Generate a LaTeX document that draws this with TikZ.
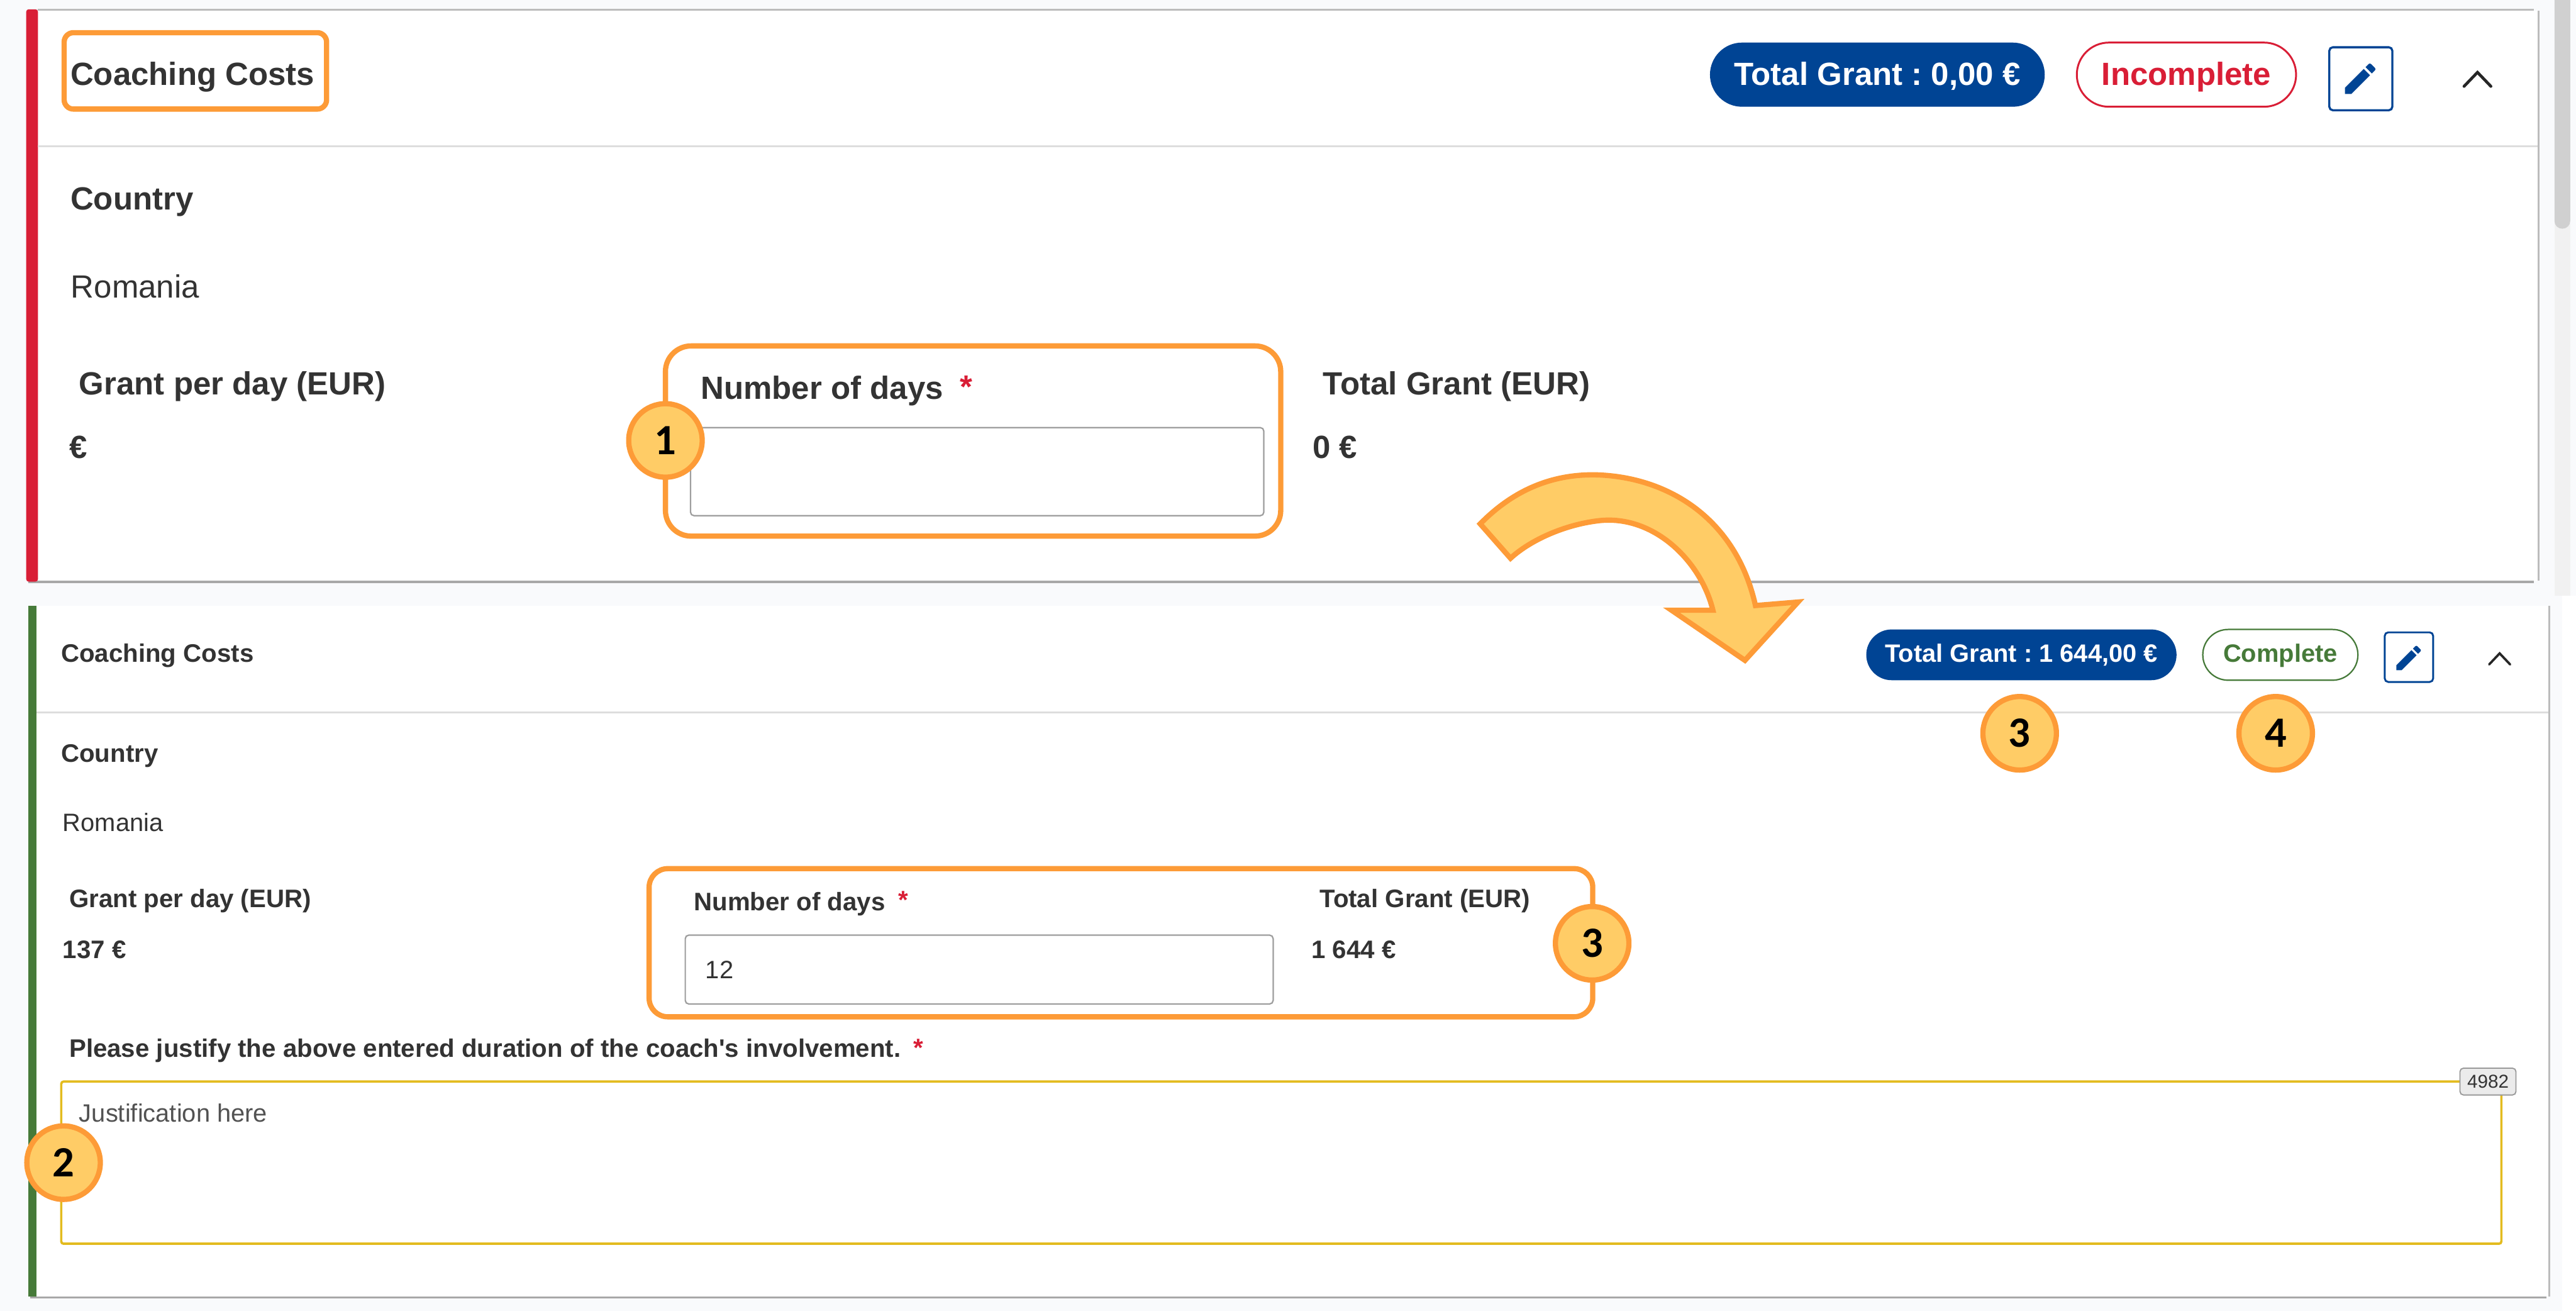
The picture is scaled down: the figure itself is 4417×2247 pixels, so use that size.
\documentclass[tikz,border=0pt]{standalone}
\usepackage{fontspec}
\setmainfont{Liberation Sans}
\newfontfamily\aposfont{Liberation Sans}
\newfontfamily\badgefont{Carlito}
\usetikzlibrary{shapes.misc}
\definecolor{pagebg}{HTML}{F9FAFC}
\definecolor{orangeln}{HTML}{FD9B37}
\definecolor{orangefl}{HTML}{FFCC66}
\definecolor{redbar}{HTML}{D91E36}
\definecolor{greenbar}{HTML}{467A39}
\definecolor{navy}{HTML}{004494}
\definecolor{inktxt}{HTML}{333333}
\definecolor{yellowln}{HTML}{E3BB1F}
\definecolor{shadowln}{HTML}{A8A8A8}
\definecolor{hairln}{HTML}{DDDDDD}
\definecolor{thumb}{HTML}{D0D0D0}
\definecolor{track}{HTML}{F1F1F1}
\tikzset{
  x=0.25pt,y=-0.25pt,
  lab/.style={anchor=base west,inner sep=0pt,text=inktxt},
  bigb/.style={lab,font=\fontsize{13.75}{16}\selectfont\bfseries},
  bigr/.style={lab,font=\fontsize{13.75}{16}\selectfont},
  smb/.style={lab,font=\fontsize{10.85}{13}\selectfont\bfseries},
  smr/.style={lab,font=\fontsize{10.75}{13}\selectfont},
  pillbox/.style={rounded rectangle,inner sep=0pt,line width=1pt,minimum height=#1},
  toppill/.style={pillbox=27.5pt,text height=11pt,text depth=2pt,font=\fontsize{13.75}{16}\selectfont\bfseries},
  lowpill/.style={pillbox=21.75pt,text height=8pt,text depth=1.8pt,font=\fontsize{10.75}{13}\selectfont\bfseries},
  callout/.style={circle,draw=orangeln,fill=orangefl,line width=2.25pt,minimum size=31.5pt,inner sep=0pt,text=black,font=\fontsize{18.5}{20}\selectfont\badgefont\bfseries},
  framebox/.style={draw=orangeln,line width=2.25pt},
  inputbox/.style={draw=black!38,line width=0.6pt,rounded corners=1.5pt},
  chev/.style={draw=black!85,line width=1.25pt,line cap=round,line join=miter},
}
\newcommand{\penicon}[3]{%
  \begin{scope}[shift={(#1,#2)},x=#3*0.25pt,y=-#3*0.25pt]
    \fill[navy] (-9,5.25) -- (-9,9) -- (-5.25,9) -- (5.81,-2.06) -- (2.06,-5.81) -- cycle;
    \fill[navy] (8.71,-4.96) .. controls (9.1,-5.35) and (9.1,-5.98) .. (8.71,-6.37)
      -- (6.37,-8.71) .. controls (5.98,-9.1) and (5.35,-9.1) .. (4.96,-8.71)
      -- (3.13,-6.88) -- (6.88,-3.13) -- cycle;
  \end{scope}}
\frenchspacing
\begin{document}
\begin{tikzpicture}
\useasboundingbox (0,0) rectangle (4417,2247);
\fill[pagebg] (0,0) rectangle (4417,2247);
% scrollbar track and thumb
\fill[track] (4380,0) rectangle (4407,1021);
\fill[thumb,rounded corners=3.3pt] (4380,-30) rectangle (4407,392);
\fill[white] (4393,1021) rectangle (4417,2247);
% top panel
\fill[shadowln] (48,995) rectangle (4345,1000);
\fill[hairln!85!black] (65,15) rectangle (4345,18);
\fill[hairln!85!black] (4351,18) rectangle (4354,995);
\fill[white] (65,18) rectangle (4351,995);
\fill[redbar,rounded corners=1pt] (45,16) rectangle (65,997);
\fill[hairln] (65,249) rectangle (4351,252);
% bottom panel
\fill[shadowln] (52,2222) rectangle (4366,2226);
\fill[hairln!85!black] (4370,1038) rectangle (4373,2222);
\fill[white] (63,1038) rectangle (4370,2223);
\fill[greenbar] (48,1038) rectangle (63,2222);
\fill[hairln] (63,1220) rectangle (4370,1223);

% top panel content
\draw[framebox,rounded corners=4pt] (110,56) rectangle (560,187);
\node[bigb] (ttitle) at (120,146) {Coaching Costs};
\node[bigb] (tcountry) at (120,360) {Country};
\node[bigr] (tromania) at (121,511) {Romania};
\node[bigb] (tgrant) at (135,677) {Grant per day (EUR)};
\node[bigb] (teuro) at (118,786) {€};
\node[bigb] (tdays) at (1201,684) {Number of days};
\node[bigb,text=redbar] (tstar) at (1645,682) {*};
\node[bigb] (ttotal) at (2268,677) {Total Grant (EUR)};
\node[bigb] (tzero) at (2250,786) {0 €};
\draw[inputbox] (1184,733) rectangle (2167,884);
\draw[framebox,rounded corners=11pt] (1141,593) rectangle (2196,919);
\node[callout] (b1) at (1141,755) {1};

\node[toppill,fill=navy,text=white,minimum width=143.5pt] (tpill) at (3219,128) {Total Grant : 0,00 €};
\node[toppill,draw=redbar,fill=white,text=redbar,line width=.8pt,minimum width=94pt] (tstatus) at (3749,128) {Incomplete};
\draw[draw=navy,line width=.9pt,rounded corners=1.5pt] (3994,81) rectangle (4102,189);
\penicon{4047}{135}{2.9}
\draw[chev] (4225,148) -- (4248,124) -- (4271,148);

% bottom panel content
\node[smb] (btitle) at (104,1135) {Coaching Costs};
\node[smb] (bcountry) at (104,1306) {Country};
\node[smr] (bromania) at (107,1425) {Romania};
\node[smb] (bgrant) at (118,1556) {Grant per day (EUR)};
\node[smb] (bprice) at (107,1643) {137 €};
\node[smb] (bdays) at (1189,1561) {Number of days};
\node[smb,text=redbar] (bstar) at (1540,1558) {*};
\node[smb] (btotal) at (2262,1556) {Total Grant (EUR)};
\node[smb] (bsum) at (2248,1643) {1 644 €};
\draw[inputbox] (1175,1603) rectangle (2183,1721);
\node[smr] (bval) at (1209,1677) {12};
\draw[framebox,rounded corners=8pt] (1113,1489) rectangle (2731,1743);
\node[callout] (b3a) at (2730,1617) {3};
\node[smb] (bjust) at (118,1812) {Please justify the above entered duration of the coach{\aposfont '}s involvement.};
\node[smb,text=redbar] (bjstar) at (1566,1811) {*};
\draw[yellowln,line width=1pt,rounded corners=1pt] (105,1854) rectangle (4289,2132);
\node[smr,text=inktxt!85] (bjtext) at (135,1923) {Justification here};
\node[draw=black!40,fill=black!8,rounded corners=1.5pt,line width=.5pt,minimum width=24pt,minimum height=11.5pt,inner sep=0pt,text=inktxt,font=\fontsize{8}{10}\selectfont] (bcount) at (4266,1854) {4982};
\node[callout] (b2) at (109,1993) {2};

\node[lowpill,fill=navy,text=white,minimum width=133pt] (bpill) at (3466,1122.5) {Total Grant : 1 644,00 €};
\node[lowpill,draw=greenbar,fill=white,text=greenbar,line width=.6pt,minimum width=66.5pt] (bstatus) at (3910,1122.5) {Complete};
\draw[draw=navy,line width=.8pt,rounded corners=1.5pt] (4089,1084) rectangle (4172,1169);
\penicon{4130}{1128}{2.33}
\draw[chev,line width=1pt] (4268,1139) -- (4286,1120) -- (4304,1139);
\node[callout] (b3b) at (3463,1257) {3};
\node[callout] (b4) at (3902,1257) {4};

% curved arrow
\draw[draw=orangeln,fill=orangefl,line width=2.25pt,miter limit=6]
  (2538,898) .. controls (2590,845) and (2655,812) .. (2738,814)
  .. controls (2862,818) and (2977,890) .. (3010,1038)
  -- (3083,1032) -- (2992,1132) -- (2866,1046) -- (2937,1046)
  .. controls (2916,960) and (2833,880) .. (2738,893)
  .. controls (2683,900) and (2625,925) .. (2590,957) -- cycle;
\end{tikzpicture}
\end{document}
